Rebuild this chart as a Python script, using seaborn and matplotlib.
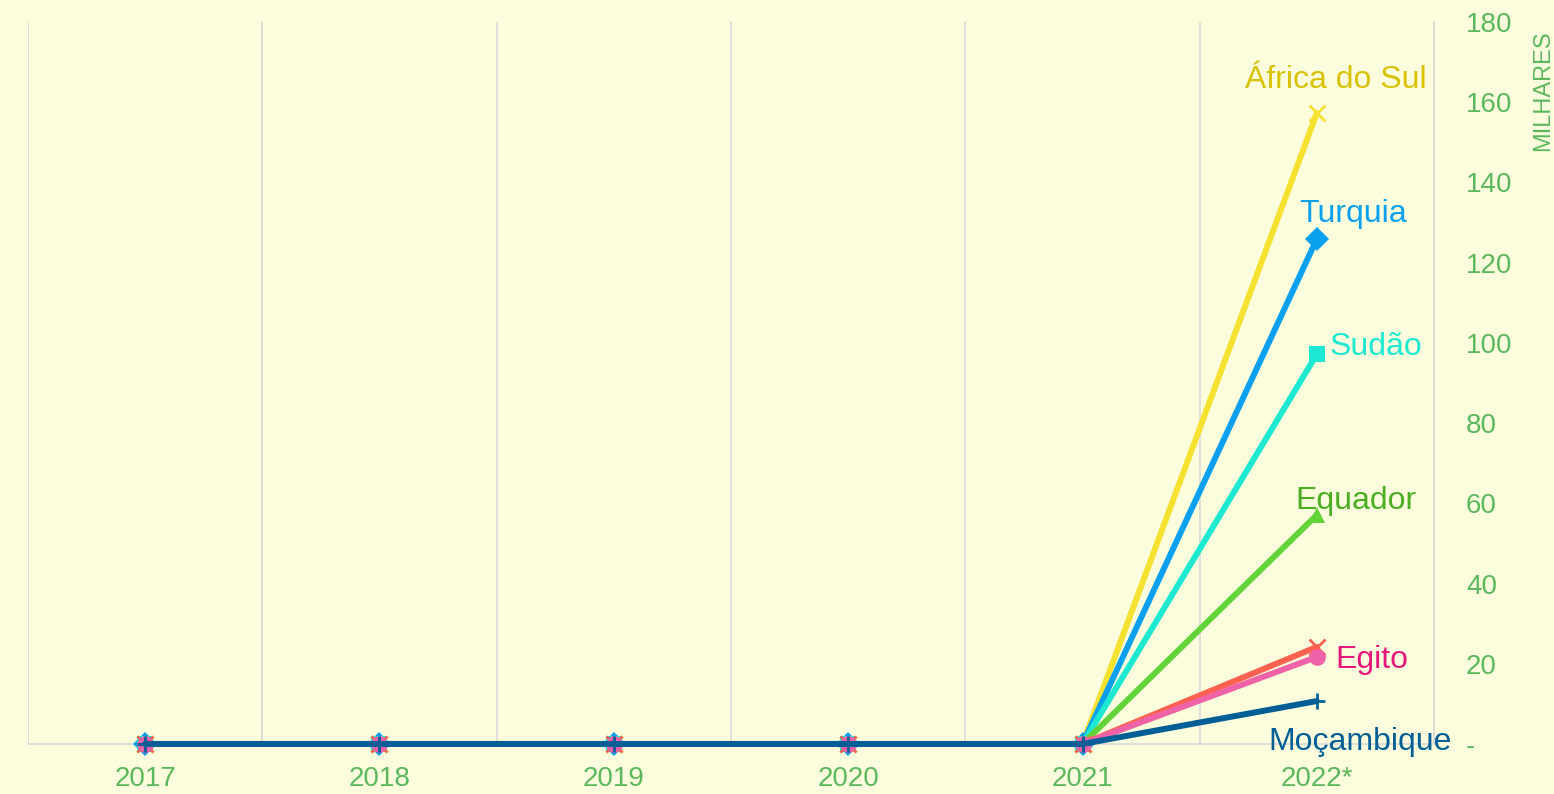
import numpy as np
import pandas as pd
import matplotlib
matplotlib.use("Agg")
import matplotlib.pyplot as plt
import matplotlib.ticker as ticker
import seaborn as sns

years = ["2017", "2018", "2019", "2020", "2021", "2022*"]
africa_do_sul = [0, 0, 0, 0, 0, 157.3]
turquia = [0, 0, 0, 0, 0, 125.9]
sudao = [0, 0, 0, 0, 0, 97.2]
equador = [0, 0, 0, 0, 0, 57.1]
outro = [0, 0, 0, 0, 0, 24.2]
egito = [0, 0, 0, 0, 0, 21.7]
mocambique = [0, 0, 0, 0, 0, 10.7]
yticks = [0, 20, 40, 60, 80, 100, 120, 140, 160, 180]

series = {
    "África do Sul": africa_do_sul,
    "Turquia": turquia,
    "Sudão": sudao,
    "Equador": equador,
    "Outro": outro,
    "Egito": egito,
    "Moçambique": mocambique,
}

# cor da linha, marcador, cor do rotulo, deslocamento do rotulo (px), alinhamento
estilos = {
    "África do Sul": ("#f5e12f", "x", "#d9c200", (19, 33), "center"),
    "Turquia": ("#0aa0f0", "D", "#0aa0f0", (36, 25), "center"),
    "Sudão": ("#1de8d2", "s", "#1de8d2", (13, 7), "left"),
    "Equador": ("#62d43a", "^", "#4cae22", (39, 14), "center"),
    "Outro": ("#ff6150", "x", None, None, None),
    "Egito": ("#ef62a8", "o", "#e3197c", (19, -3), "left"),
    "Moçambique": ("#005e96", "+", "#005e96", (43, -41), "center"),
}

df = pd.DataFrame([
    {"ano": i, "pais": nome, "valor": v}
    for nome, vals in series.items() for i, v in enumerate(vals)
])

sns.set_style("white")
plt.rcParams["font.family"] = ["Liberation Sans", "DejaVu Sans"]

bg = "#fbfddc"
verde = "#5cb85c"

fig = plt.figure(figsize=(15.54, 7.94), dpi=100, facecolor=bg)
ax = fig.add_axes([0.018, 0.063, 0.9048, 0.9093])
ax.set_facecolor(bg)

for nome in series:
    cor, mk, lcor, off, ha = estilos[nome]
    d = df[df["pais"] == nome]
    sns.lineplot(data=d, x="ano", y="valor", ax=ax, color=cor, linewidth=4.3,
                 marker=mk, markersize=12, markeredgewidth=2 if mk in "x+" else 0,
                 markeredgecolor=cor, legend=False, clip_on=False, zorder=3)
    if lcor is not None:
        ax.annotate(nome, xy=(len(years) - 1, series[nome][-1]), xytext=off,
                    textcoords="offset pixels", ha=ha, va="center",
                    fontsize=23, color=lcor)

ax.set_xlim(-0.5, 5.5)
ax.set_ylim(0, 180)
ax.set_xticks(range(len(years)))
ax.set_xticklabels(years)
ax.xaxis.set_minor_locator(ticker.FixedLocator(np.arange(-0.5, 6, 1)))
ax.grid(which="minor", axis="x", color="#d9d9d9", linewidth=1.2)
ax.grid(which="major", visible=False)
ax.set_yticks(yticks)
ax.yaxis.set_major_formatter(ticker.FuncFormatter(lambda v, p: "-" if v == 0 else f"{v:g}"))
ax.yaxis.tick_right()
ax.tick_params(axis="both", which="both", length=0)
ax.tick_params(axis="both", labelsize=20, labelcolor=verde)
ax.tick_params(axis="x", pad=16)
ax.tick_params(axis="y", pad=23)
ax.set_xlabel("")
ax.set_ylabel("")
for s in ["top", "left"]:
    ax.spines[s].set_visible(False)
for s in ["bottom", "right"]:
    ax.spines[s].set_color("#d9d9d9")
    ax.spines[s].set_linewidth(1.2)
    ax.spines[s].set_zorder(1)

fig.text(0.993, 0.962, "MILHARES", rotation=90, ha="center", va="top",
         fontsize=17, color=verde)

fig.savefig("out.png", dpi=100, facecolor=bg)
